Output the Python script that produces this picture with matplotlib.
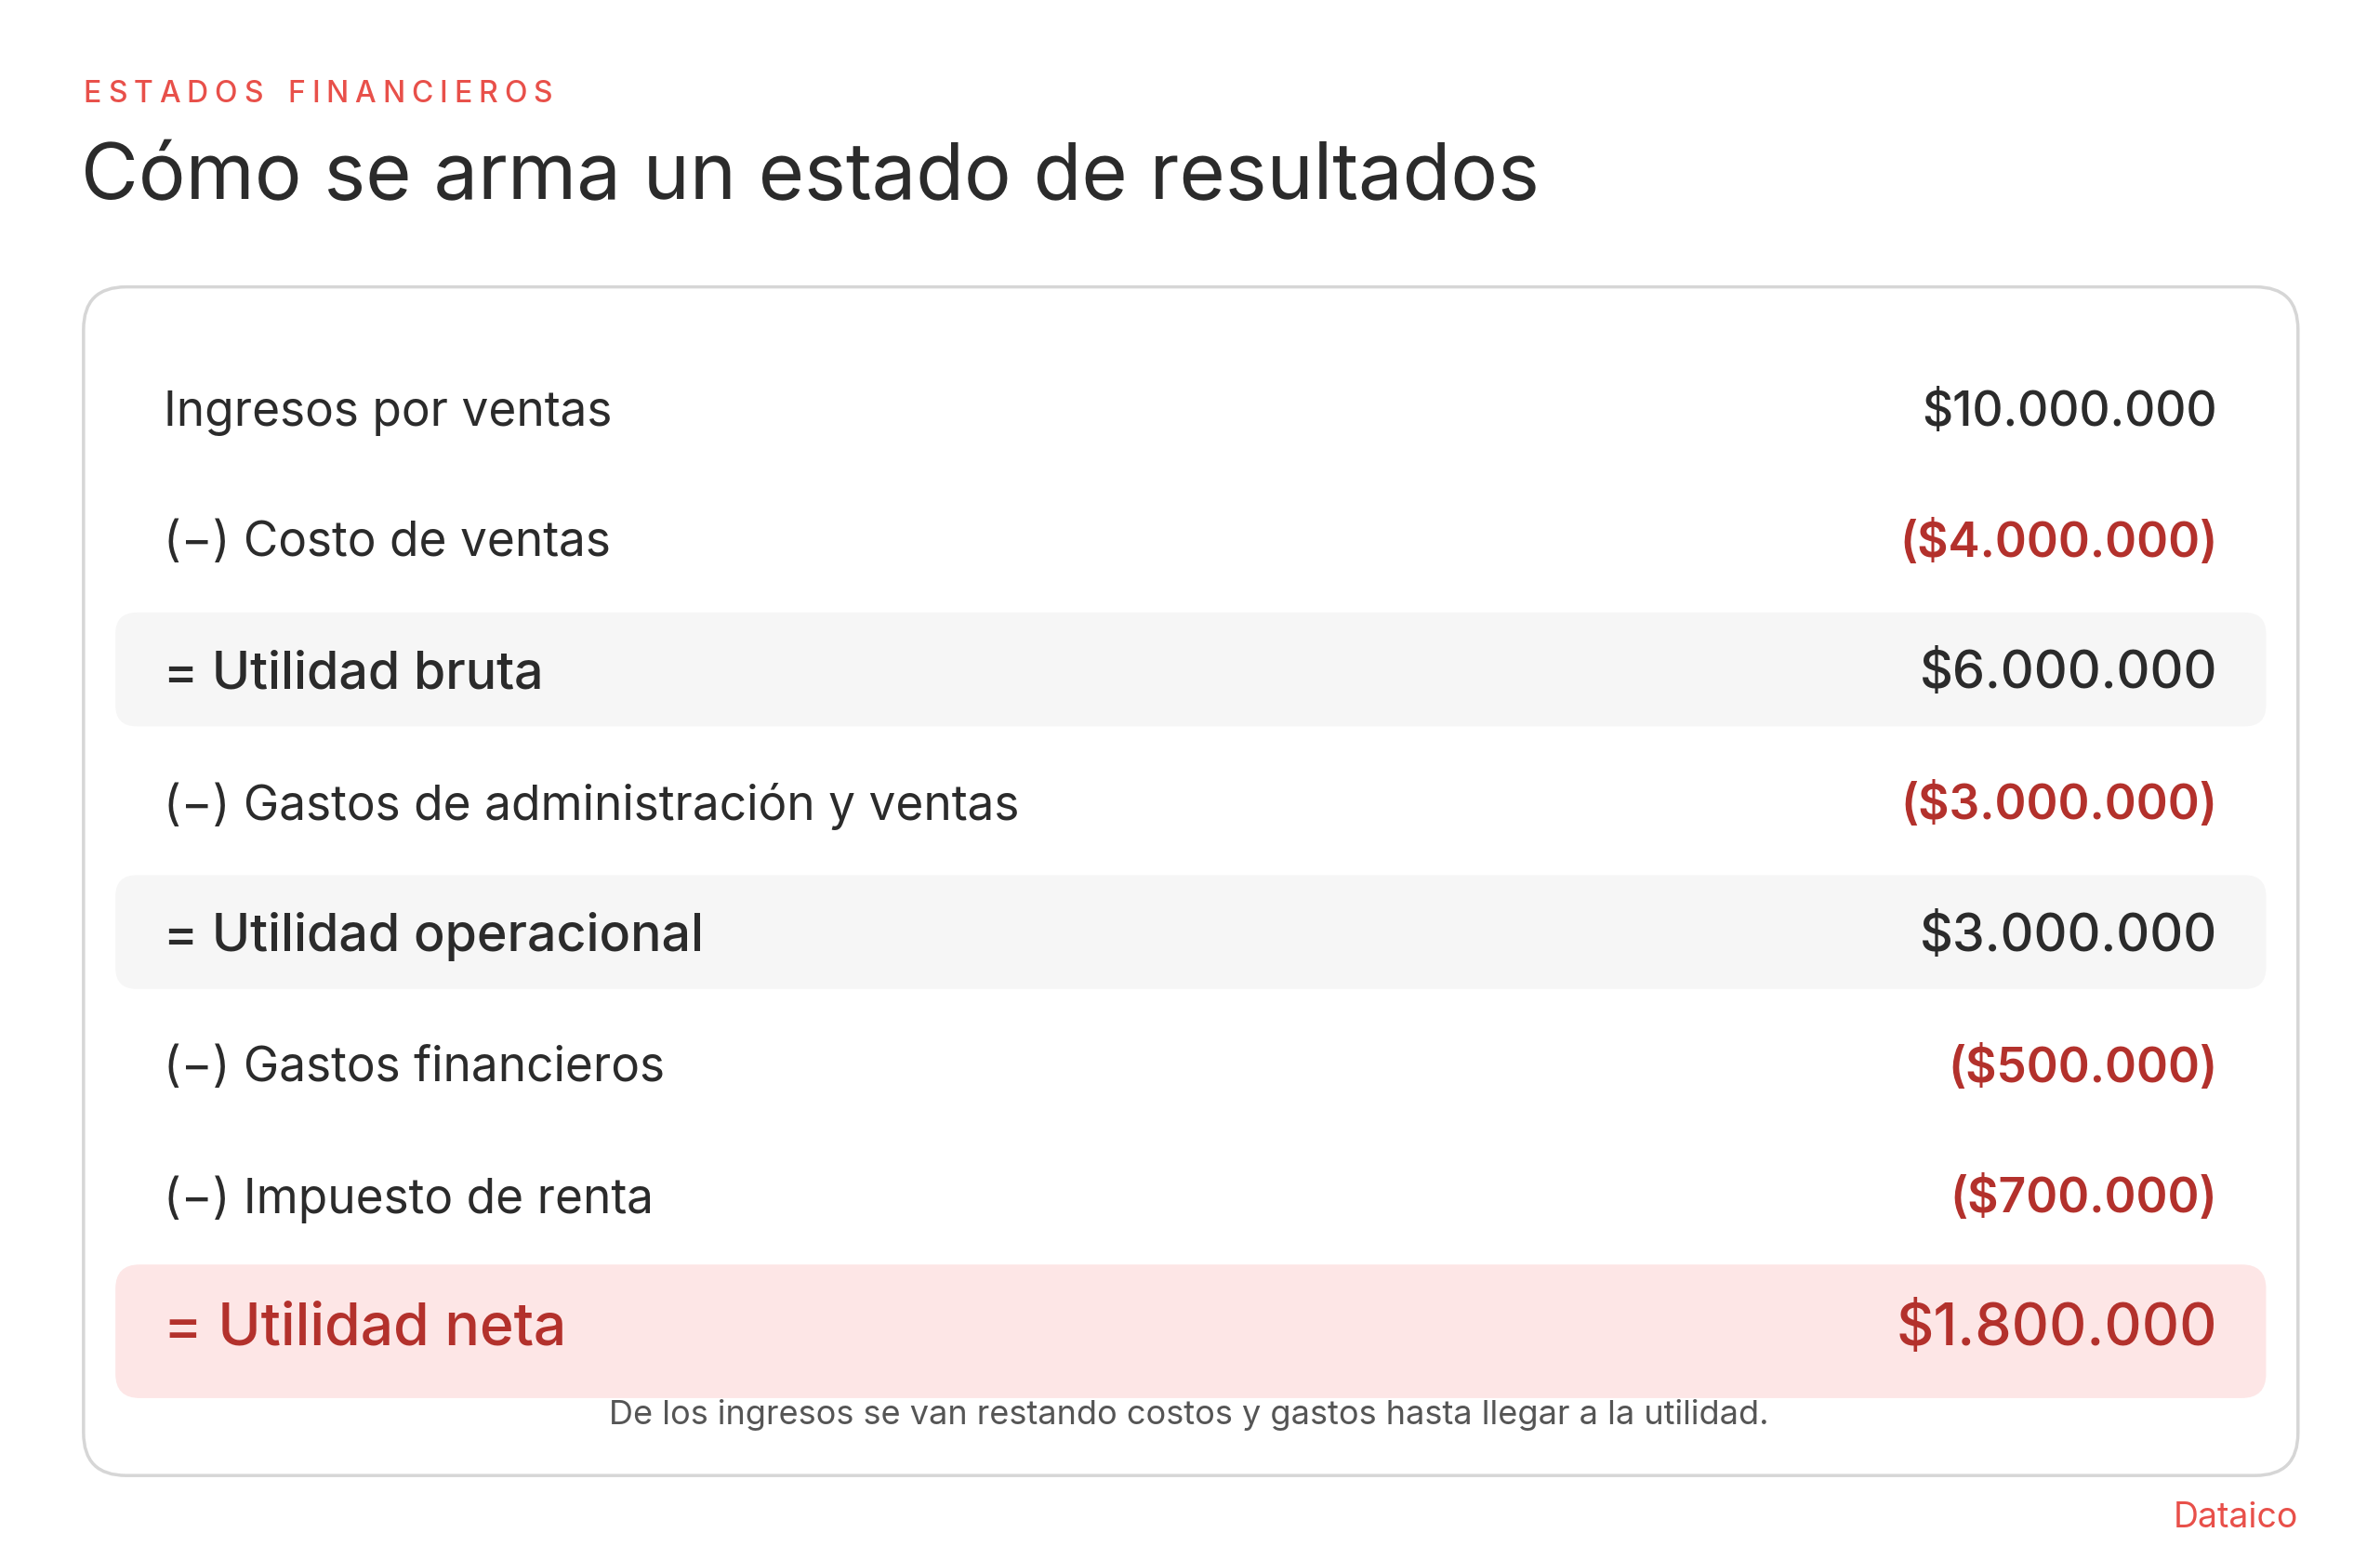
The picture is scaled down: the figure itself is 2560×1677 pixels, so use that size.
import matplotlib
matplotlib.use("Agg")
import matplotlib.pyplot as plt
from matplotlib.patches import FancyBboxPatch

labels = ["Ingresos por ventas", "(−) Costo de ventas", "= Utilidad bruta",
          "(−) Gastos de administración y ventas", "= Utilidad operacional",
          "(−) Gastos financieros", "(−) Impuesto de renta", "= Utilidad neta"]
values = ["$10.000.000", "($4.000.000)", "$6.000.000", "($3.000.000)",
          "$3.000.000", "($500.000)", "($700.000)", "$1.800.000"]
kinds = ["base", "neg", "sub", "neg", "sub", "neg", "neg", "total"]
row_y = [272, 358, 444, 531, 617, 704, 790, 876]

W, H = 1567, 1027
plt.rcParams['font.family'] = ['Inter', 'DejaVu Sans']
fig = plt.figure(figsize=(25.6, 16.77), dpi=100)
fig.patch.set_facecolor("white")
ax = fig.add_axes([0, 0, 1, 1])
ax.set_xlim(0, W); ax.set_ylim(H, 0); ax.axis("off")

dark = "#2b2b2b"; red = "#b3312c"; accent = "#e8504a"

# letter-spaced header
renderer = fig.canvas.get_renderer()
x = 55.0
px_per_unit = fig.bbox.width / W
for ch in "ESTADOS FINANCIEROS":
    t = ax.text(x, 62, ch, color=accent, fontsize=23, va="center", ha="left",
                fontweight="medium")
    w = t.get_window_extent(renderer).width / px_per_unit
    if ch == " ":
        w = 8
    x += w + 4.2

ax.text(53, 117, "Cómo se arma un estado de resultados", color=dark, fontsize=61,
        va="center", ha="left")

ax.add_patch(FancyBboxPatch((55, 189), 1458, 783, boxstyle="round,pad=0,rounding_size=28",
                            fc="white", ec="#d6d6d6", lw=2.5))

for lab, val, k, y in zip(labels, values, kinds, row_y):
    fs = 37
    lc, vc, lw_, vw = dark, dark, "normal", "medium"
    if k == "neg":
        vc, vw = red, "semibold"
    elif k == "sub":
        h = 75
        ax.add_patch(FancyBboxPatch((76, y - h / 2 - 3), 1416, h,
                                    boxstyle="round,pad=0,rounding_size=14",
                                    fc="#f6f6f6", ec="none"))
        fs = 40; lw_ = "medium"
    elif k == "total":
        h = 88
        ax.add_patch(FancyBboxPatch((76, y - h / 2 + 1), 1416, h,
                                    boxstyle="round,pad=0,rounding_size=16",
                                    fc="#fde6e6", ec="none"))
        fs = 45; lc = vc = red; lw_ = vw = "medium"
    ax.text(108, y, lab, color=lc, fontsize=fs, fontweight=lw_, ha="left", va="center")
    ax.text(1460, y, val, color=vc, fontsize=fs, fontweight=vw, ha="right", va="center")

ax.text(783, 932, "De los ingresos se van restando costos y gastos hasta llegar a la utilidad.",
        color="#555555", fontsize=26, ha="center", va="center")
ax.text(1513, 1000, "Dataico", color=accent, fontsize=27, ha="right", va="center")

fig.savefig("out.png", dpi=100, facecolor="white")
